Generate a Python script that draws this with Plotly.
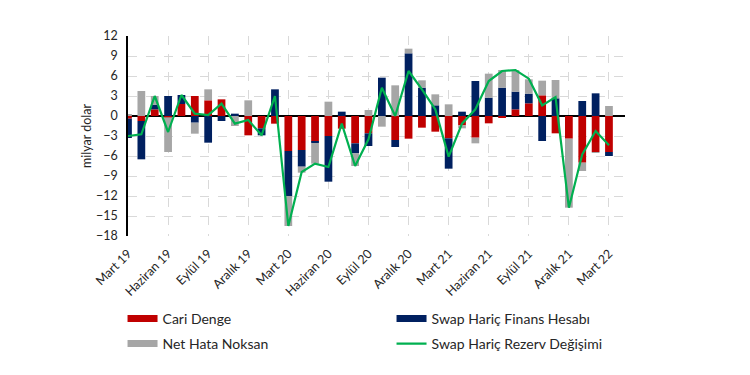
import plotly.graph_objects as go

months = list(range(37))
tick_pos = [0, 3, 6, 9, 12, 15, 18, 21, 24, 27, 30, 33, 36]
tick_labels = ["Mart 19", "Haziran 19", "Eylül 19", "Aralık 19", "Mart 20", "Haziran 20",
               "Eylül 20", "Aralık 20", "Mart 21", "Haziran 21", "Eylül 21", "Aralık 21", "Mart 22"]

cari_denge = [-0.4, -0.75, 1.0, -0.2, 1.8, 3.0, 2.35, 2.5, 0.0, -2.9, -1.85, -1.15,
              -5.25, -5.1, -3.85, -3.0, -1.9, -4.1, -2.6, 0.0, -3.6, -3.4, -1.75, -2.35,
              -3.35, -1.4, -3.25, -1.1, -0.25, 1.0, 1.9, 3.1, -2.6, -3.4, -7.0, -5.4, -5.4]
finans_hesabi = [-2.9, -5.75, 0.7, 3.0, 1.35, -1.0, -4.0, -0.75, 0.35, 0.0, -1.05, 4.0,
                 -6.75, -2.5, -0.2, -6.85, 0.65, -1.5, -1.9, 5.75, -1.05, 9.4, 4.25, 1.6,
                 -4.55, 0.65, 5.25, 2.75, 4.25, 2.65, 1.45, -3.75, 2.65, 0.0, 2.25, 3.4, -0.6]
net_hata = [0.3, 3.75, 1.3, -5.2, 0.0, -1.65, 1.65, 0.0, -1.5, 2.35, 0.0, 0.0,
            -4.5, -0.9, -3.1, 2.15, 0.0, -1.9, 0.9, -1.6, 4.6, 0.7, 1.1, 1.65,
            1.75, -0.45, -0.85, 3.6, 2.65, 3.25, 2.15, 2.2, 2.75, -10.35, -1.25, -0.1, 1.5]
rezerv_degisimi = [-3.0, -2.75, 3.0, -2.4, 3.15, 0.35, 0.15, 1.85, -1.15, -0.6, -2.9, 3.0,
                   -16.5, -8.4, -7.15, -7.65, -1.15, -7.5, -3.5, 4.25, 0.0, 6.75, 4.0, 1.0,
                   -6.1, -1.15, 1.0, 5.25, 6.75, 6.9, 5.6, 1.6, 2.85, -13.75, -5.75, -2.25, -4.4]

RED = "#C00000"
NAVY = "#002060"
GRAY = "#A6A6A6"
GREEN = "#00B050"
FONT = "Lato"

fig = go.Figure()
bar_series = [("Cari Denge", cari_denge, RED, "legend"),
              ("Swap Hariç Finans Hesabı", finans_hesabi, NAVY, "legend"),
              ("Net Hata Noksan", net_hata, GRAY, "legend2")]
for name, vals, col, lg in bar_series:
    fig.add_trace(go.Bar(x=months, y=vals, name=name, marker_color=col,
                         marker_line_width=0, width=0.58, showlegend=False))
# legend entries drawn as wide rectangles (like the original chart's legend keys)
for rank, (name, vals, col, lg) in enumerate(bar_series):
    fig.add_trace(go.Scatter(x=[None], y=[None], name=name, mode="lines", legend=lg,
                             line=dict(color=col, width=7), legendrank=rank + 1))
fig.add_trace(go.Scatter(x=months, y=rezerv_degisimi, name="Swap Hariç Rezerv Değişimi",
                         mode="lines", line=dict(color=GREEN, width=2.2), legendrank=4,
                         legend="legend2"))

legend_common = dict(orientation="h", xanchor="left", yanchor="top",
                     entrywidth=224, font=dict(size=14, color="#262626"),
                     traceorder="normal", itemwidth=30, bgcolor="rgba(0,0,0,0)")

fig.update_layout(
    width=750, height=375,
    barmode="relative",
    plot_bgcolor="white", paper_bgcolor="white",
    margin=dict(l=120, r=133, t=28, b=147, autoexpand=False),
    font=dict(family=FONT, size=12, color="#262626"),
    legend=dict(x=-0.011, y=-0.335, **legend_common),
    legend2=dict(x=-0.011, y=-0.46, **legend_common),
    showlegend=True,
)
fig.update_xaxes(range=[0, 37.2], tickvals=tick_pos, ticktext=tick_labels, tickangle=-45,
                 showgrid=True, gridcolor="#D9D9D9", griddash="dash", gridwidth=1,
                 zeroline=False, showline=False, ticks="", ticklabelstandoff=7,
                 tickfont=dict(size=12.5))
fig.update_yaxes(range=[-18, 12], dtick=3, showgrid=True, gridcolor="#D9D9D9", griddash="dash",
                 gridwidth=1, zeroline=True, zerolinecolor="#000000", zerolinewidth=1.5,
                 showline=True, linecolor="#000000", linewidth=1.5, ticks="",
                 ticklabelstandoff=6,
                 title=dict(text="milyar dolar", font=dict(size=12.5), standoff=2),
                 tickfont=dict(size=12.5))

fig.write_html("out.html")
